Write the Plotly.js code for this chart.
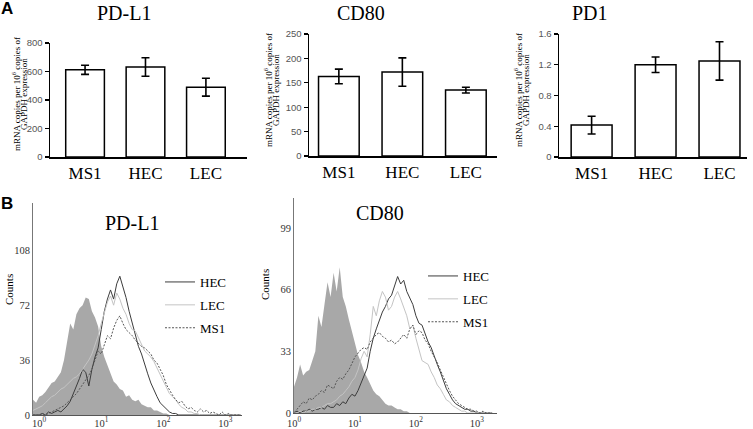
<!DOCTYPE html>
<html>
<head>
<meta charset="utf-8">
<script src="https://cdn.plot.ly/plotly-3.0.1.min.js"></script>
<style>html,body{margin:0;padding:0;background:#fff;}#chart{width:753px;height:429px;}</style>
</head>
<body>
<div id="chart"></div>
<script>
// ---------- Panel A: qPCR bars ----------
const cellTypes = ['MS1', 'HEC', 'LEC'];
const pdl1Mrna = [612, 632, 490];
const pdl1Err = [32, 65, 63];
const cd80Mrna = [163, 172, 135];
const cd80Err = [15, 29, 6];
const pd1Mrna = [0.415, 1.2, 1.25];
const pd1Err = [0.115, 0.1, 0.25];

// ---------- Panel B: flow cytometry histograms ----------
// log10 fluorescence bin positions
const binLog = [
  -0.10,-0.05,0.00,0.05,0.10,0.15,0.20,0.25,0.30,0.35,
  0.40,0.45,0.50,0.55,0.60,0.65,0.70,0.75,0.80,0.85,
  0.90,0.95,1.00,1.05,1.10,1.15,1.20,1.25,1.30,1.35,
  1.40,1.45,1.50,1.55,1.60,1.65,1.70,1.75,1.80,1.85,
  1.90,1.95,2.00,2.05,2.10,2.15,2.20,2.25,2.30,2.35,
  2.40,2.45,2.50,2.55,2.60,2.65,2.70,2.75,2.80,2.85,
  2.90,2.95,3.00,3.05,3.10,3.15,3.20,3.25];

const pdl1Isotype = [
  10,8,12,13,15,18,21,22,25,28,
  36,48,60,56,66,70,72,77,76,68,
  64,58,45,38,33,27,22,20,17,16,
  12,13,10,9,10,7,6,5,5,3,
  3,2,1,1,0,0,0,0,0,0,
  0,0,0,0,0,0,0,0,0,0,
  0,0,0,0,0,0,0,0];
const pdl1HEC = [
  0,0,0,1,0,2,1,2,3,2,
  4,6,9,14,18,24,30,28,19,30,
  38,44,56,68,76,82,76,86,91,84,
  77,68,60,52,45,40,33,27,21,16,
  12,8,6,4,2,1,1,0,0,0,
  0,0,0,0,0,0,0,0,0,0,
  0,0,0,0,0,0,0,0];
const pdl1LEC = [
  3,4,5,6,8,10,12,13,15,17,
  18,20,22,24,25,27,30,33,36,40,
  46,52,60,67,74,78,72,80,76,70,
  66,60,56,55,51,47,42,40,38,35,
  31,26,22,18,14,12,10,7,5,4,
  2,2,1,1,0,0,0,0,0,0,
  0,0,0,0,0,0,0,0];
const pdl1MS1 = [
  0,0,0,1,0,1,2,3,4,5,
  6,8,10,12,14,17,20,23,26,30,
  36,42,40,46,52,50,57,62,65,60,
  56,54,52,49,47,45,44,42,40,36,
  34,30,26,20,16,13,10,8,9,6,
  4,5,3,2,4,2,3,1,2,1,
  0,2,0,1,0,0,0,0];

const cd80Isotype = [
  0,0,14,19,26,20,22,23,28,33,
  52,46,58,70,62,75,65,78,62,57,
  50,44,38,31,27,22,19,15,12,10,
  9,7,5,4,4,3,2,2,1,1,
  0,0,0,0,0,0,0,0,0,0,
  0,0,0,0,0,0,0,0,0,0,
  0,0,0,0,0,0,0,0];
const cd80HEC = [
  0,0,0,1,0,1,1,2,1,2,
  2,3,2,4,3,3,5,4,6,5,
  8,10,9,12,16,20,24,33,40,45,
  50,54,57,61,63,68,73,69,71,65,
  61,58,52,48,47,42,38,35,30,26,
  22,17,13,10,7,5,4,3,2,2,
  1,1,0,0,0,0,0,0];
const cd80LEC = [
  0,0,0,0,1,0,1,1,2,2,
  3,3,4,5,5,6,7,9,10,12,
  14,17,19,23,29,33,30,42,57,52,
  60,65,62,55,57,62,65,61,57,52,
  45,47,40,34,28,27,26,22,19,15,
  13,10,7,6,4,3,2,1,1,0,
  0,0,0,0,0,0,0,0];
const cd80MS1 = [
  0,0,0,2,4,6,5,8,7,9,
  10,12,11,15,14,13,17,19,18,21,
  23,27,30,32,34,35,34,38,40,42,
  43,41,40,38,39,37,38,40,42,40,
  45,47,42,44,43,39,37,33,30,27,
  23,19,15,12,9,7,5,4,3,2,
  2,1,1,0,1,0,0,0];

const decadeTicks = [1, 10, 100, 1000];
const decadeLabels = ['10<sup>0</sup>', '10<sup>1</sup>', '10<sup>2</sup>', '10<sup>3</sup>'];
const pdl1CountTicks = [0, 36, 72, 108];
const cd80CountTicks = [0, 33, 66, 99];

const binX = binLog.map(v => Math.pow(10, v));

// ---------- helpers ----------
const W = 753, H = 429;
const px = p => p / W;
const py = p => 1 - p / H;
const SERIF = 'Liberation Serif, Times New Roman, serif';
const SANS = 'Liberation Sans, Arial, sans-serif';

function barTrace(vals, errs, xa, ya) {
  return {
    type: 'bar', x: cellTypes, y: vals, xaxis: xa, yaxis: ya, width: 0.64,
    marker: {color: '#ffffff', line: {color: '#000', width: 1.5}},
    error_y: {type: 'data', array: errs, visible: true, color: '#000', thickness: 1.6, width: 4},
    showlegend: false, hoverinfo: 'skip'
  };
}
function fillTrace(vals, xa, ya) {
  return {type: 'scatter', mode: 'lines', x: binX, y: vals, xaxis: xa, yaxis: ya,
    fill: 'tozeroy', fillcolor: '#a8a8a8', line: {width: 0, color: '#a8a8a8'},
    showlegend: false, hoverinfo: 'skip'};
}
function lineTrace(vals, name, style, xa, ya, leg) {
  return Object.assign({type: 'scatter', mode: 'lines', x: binX, y: vals, xaxis: xa, yaxis: ya,
    name: name, legend: leg, legendgroup: leg + name, hoverinfo: 'skip'}, style);
}
const hecStyle = {line: {color: '#3c3c3c', width: 1}};
const lecStyle = {line: {color: '#c4c4c4', width: 1}};
const ms1Style = {line: {color: '#555555', width: 1, dash: '2px,1.5px'}};

const data = [
  barTrace(pdl1Mrna, pdl1Err, 'x', 'y'),
  barTrace(cd80Mrna, cd80Err, 'x2', 'y2'),
  barTrace(pd1Mrna, pd1Err, 'x3', 'y3'),
  fillTrace(pdl1Isotype, 'x4', 'y4'),
  lineTrace(pdl1HEC, 'HEC', hecStyle, 'x4', 'y4', 'legend'),
  lineTrace(pdl1LEC, 'LEC', lecStyle, 'x4', 'y4', 'legend'),
  lineTrace(pdl1MS1, 'MS1', ms1Style, 'x4', 'y4', 'legend'),
  fillTrace(cd80Isotype, 'x5', 'y5'),
  lineTrace(cd80HEC, 'HEC', hecStyle, 'x5', 'y5', 'legend2'),
  lineTrace(cd80LEC, 'LEC', lecStyle, 'x5', 'y5', 'legend2'),
  lineTrace(cd80MS1, 'MS1', ms1Style, 'x5', 'y5', 'legend2')
];

function catX(d, r) {
  return {domain: [px(d[0]), px(d[1])], type: 'category', range: r, showline: true,
    linecolor: '#000', linewidth: 1.5, ticks: '', showgrid: false, zeroline: false,
    tickfont: {family: SERIF, size: 17, color: '#000'}};
}
function valY(d, r, dt, xa) {
  return {domain: [py(d[1]), py(d[0])], range: r, dtick: dt, tick0: 0, anchor: xa,
    ticks: 'outside', ticklen: 4, tickwidth: 1.3, tickcolor: '#000', showline: true,
    linecolor: '#000', linewidth: 1.5, showgrid: false, zeroline: false,
    tickfont: {family: SANS, size: 9.5, color: '#555'}};
}
function logX(d, r, ya, standoff) {
  return {domain: [px(d[0]), px(d[1])], type: 'log', range: r, anchor: ya,
    tickvals: decadeTicks, ticktext: decadeLabels, ticks: '', showline: true,
    linecolor: '#555', linewidth: 1, showgrid: false, zeroline: false,
    ticklabelstandoff: standoff,
    tickfont: {family: SERIF, size: 10.5, color: '#333'}};
}
function countY(d, r, tv, xa) {
  return {domain: [py(d[1]), py(d[0])], range: r, anchor: xa, tickvals: tv,
    ticks: '', showline: true, linecolor: '#777', linewidth: 1, showgrid: false,
    zeroline: false, tickfont: {family: SERIF, size: 10.5, color: '#333'}};
}

function ann(text, x, y, opts) {
  return Object.assign({text: text, x: px(x), y: py(y), xref: 'paper', yref: 'paper',
    showarrow: false, xanchor: 'center', yanchor: 'middle'}, opts || {});
}
const serifFont = s => ({family: SERIF, size: s, color: '#000'});
const yl1 = 'mRNA copies per 10<sup>6</sup> copies of';
const yl2 = 'GAPDH expression';

const layout = {
  width: W, height: H, margin: {l: 0, r: 0, t: 0, b: 0},
  paper_bgcolor: '#fff', plot_bgcolor: 'rgba(0,0,0,0)', bargap: 0.3,
  xaxis: Object.assign(catX([50, 247], [-0.58, 2.68]), {anchor: 'y'}),
  yaxis: valY([43, 157], [0, 800], 200, 'x'),
  xaxis2: Object.assign(catX([309, 497], [-0.47, 2.49]), {anchor: 'y2'}),
  yaxis2: valY([34, 156], [0, 250], 50, 'x2'),
  xaxis3: Object.assign(catX([559, 747], [-0.51, 2.43]), {anchor: 'y3'}),
  yaxis3: valY([34, 157], [0, 1.6], 0.4, 'x3'),
  xaxis4: logX([33, 242], [-0.1, 3.27], 'y4', -2),
  yaxis4: countY([203, 415], [0, 139], pdl1CountTicks, 'x4'),
  xaxis5: logX([294, 497], [0, 3.33], 'y5', 0),
  yaxis5: countY([198, 413], [0, 115], cd80CountTicks, 'x5'),
  legend: {x: px(160), y: py(267), xanchor: 'left', yanchor: 'top', bgcolor: 'rgba(0,0,0,0)',
    font: serifFont(13), traceorder: 'grouped', tracegroupgap: 3},
  legend2: {x: px(423), y: py(261), xanchor: 'left', yanchor: 'top', bgcolor: 'rgba(0,0,0,0)',
    font: serifFont(13), traceorder: 'grouped', tracegroupgap: 3},
  annotations: [
    ann('<b>A</b>', 7, 8, {font: {family: SANS, size: 17, color: '#000'}}),
    ann('<b>B</b>', 7, 203, {font: {family: SANS, size: 17, color: '#000'}}),
    ann('PD-L1', 124, 13, {font: serifFont(20)}),
    ann('CD80', 361, 13, {font: serifFont(20)}),
    ann('PD1', 590, 13, {font: serifFont(20)}),
    ann(yl1, 16, 94, {textangle: -90, font: serifFont(9)}),
    ann(yl2, 24, 94, {textangle: -90, font: serifFont(9)}),
    ann(yl1, 268, 90, {textangle: -90, font: serifFont(9)}),
    ann(yl2, 276, 90, {textangle: -90, font: serifFont(9)}),
    ann(yl1, 518, 90, {textangle: -90, font: serifFont(9)}),
    ann(yl2, 526, 90, {textangle: -90, font: serifFont(9)}),
    ann('PD-L1', 132, 223, {font: serifFont(20)}),
    ann('CD80', 380, 213, {font: serifFont(20)}),
    ann('Counts', 9, 290, {textangle: -90, font: serifFont(11)}),
    ann('Counts', 265, 285, {textangle: -90, font: serifFont(11)})
  ]
};

Plotly.newPlot('chart', data, layout, {staticPlot: true, displayModeBar: false});
</script>
</body>
</html>
